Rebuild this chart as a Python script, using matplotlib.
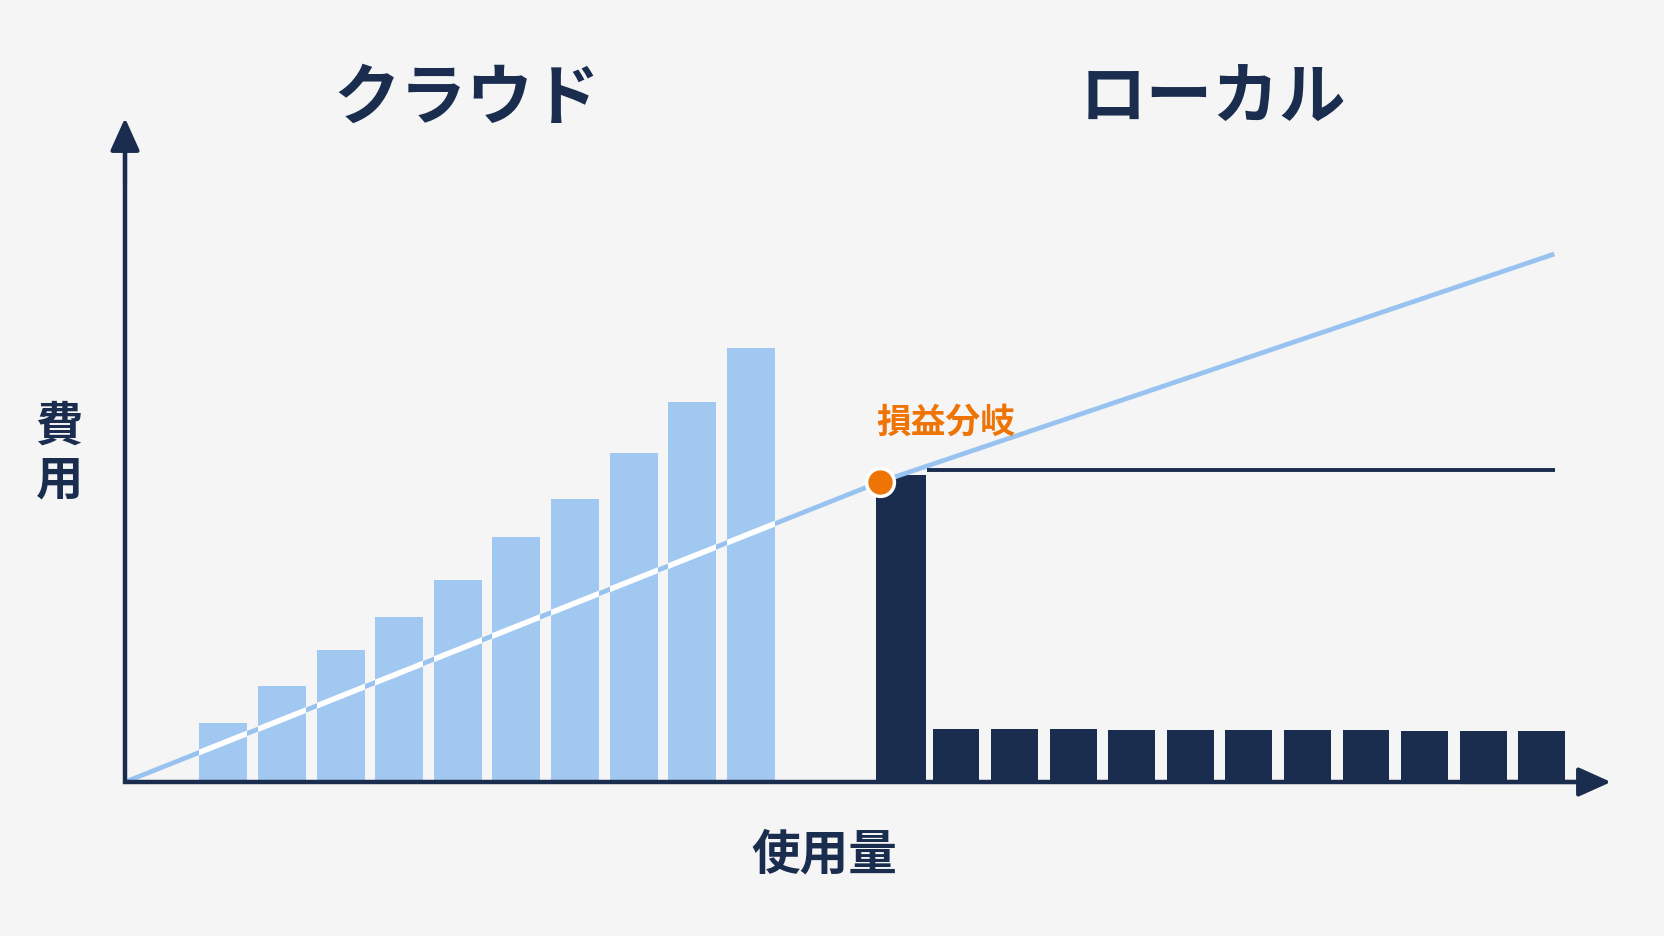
import matplotlib
matplotlib.use("Agg")
import matplotlib.pyplot as plt

plt.rcParams['font.family'] = ['Noto Sans CJK JP', 'DejaVu Sans']

# values (x = usage slot, y = cost)
cloud_cost = [5.9, 9.6, 13.2, 16.5, 20.2, 24.5, 28.3, 32.9, 38.0, 43.4]
local_initial = 30.7
local_running = [5.3, 5.3, 5.27, 5.23, 5.23, 5.2, 5.17, 5.17, 5.13, 5.13, 5.1]
cloud_line_x = [0, 12.88, 24.39]
cloud_line_y = [0, 30.0, 52.8]
local_line_x = [13.68, 24.40]
local_line_y = [31.2, 31.2]
breakeven = (12.88, 30.0)

navy = '#1a2d4e'
light = '#a0c8f1'
line_blue = '#98c3f0'
orange = '#ef7406'
bg = '#f5f5f5'

fig = plt.figure(figsize=(16.64, 9.36), dpi=100, facecolor=bg)
ax = fig.add_axes([0.07512, 0.16453, 0.89303, 0.70940])
ax.set_facecolor(bg)
ax.set_xlim(0, 25.358)
ax.set_ylim(0, 66.4)
ax.axis('off')

# cloud bars
cx = [1.68 + i for i in range(len(cloud_cost))]
cloud_bars = ax.bar(cx, cloud_cost, width=0.82, color=light, zorder=3)

# local bars
lx0 = 13.24
ax.bar([lx0], [local_initial], width=0.86, color=navy, zorder=2)
lx = [14.18 + i * 0.9995 for i in range(len(local_running))]
ax.bar(lx, local_running, width=0.80, color=navy, zorder=2)

# cost lines
ax.plot(cloud_line_x, cloud_line_y, color=line_blue, lw=3.4, zorder=2.5,
        solid_capstyle='butt')
for p in cloud_bars.patches:
    ln, = ax.plot(cloud_line_x, cloud_line_y, color='white', lw=4.0, zorder=3.5)
    ln.set_clip_path(p)
ax.plot(local_line_x, local_line_y, color=navy, lw=2.8, zorder=2.5,
        solid_capstyle='butt')

# break-even point
ax.plot([breakeven[0]], [breakeven[1]], 'o', ms=20, color=orange,
        mec='white', mew=2.5, zorder=5)
ax.text(14.01, 36.0, '損益分岐', color=orange, fontsize=25,
        fontweight='bold', ha='center', va='center', zorder=6)

# axes with arrows
ax.plot([0, 0, 24.9], [65.0, 0, 0], color=navy, lw=3.2, zorder=4,
        solid_joinstyle='miter', clip_on=False)
head = dict(arrowstyle='-|>,head_length=0.4,head_width=0.18',
            mutation_scale=50, lw=3, color=navy, shrinkA=0, shrinkB=0)
ax.annotate('', xy=(0, 1), xytext=(0, 0.9), xycoords='axes fraction',
            arrowprops=head, zorder=4)
ax.annotate('', xy=(1, 0), xytext=(0.9, 0), xycoords='axes fraction',
            arrowprops=head, zorder=4)

# labels
fig.text(0.2806, 0.8935, 'クラウド', fontsize=48, fontweight='bold',
         color=navy, ha='center', va='center')
fig.text(0.729, 0.8935, 'ローカル', fontsize=48, fontweight='bold',
         color=navy, ha='center', va='center')
fig.text(0.0355, 0.5155, '費\n用', fontsize=34, fontweight='bold',
         color=navy, ha='center', va='center', linespacing=1.15)
fig.text(0.4952, 0.0862, '使用量', fontsize=35, fontweight='bold',
         color=navy, ha='center', va='center')

fig.savefig('out.png', dpi=100, facecolor=bg)
